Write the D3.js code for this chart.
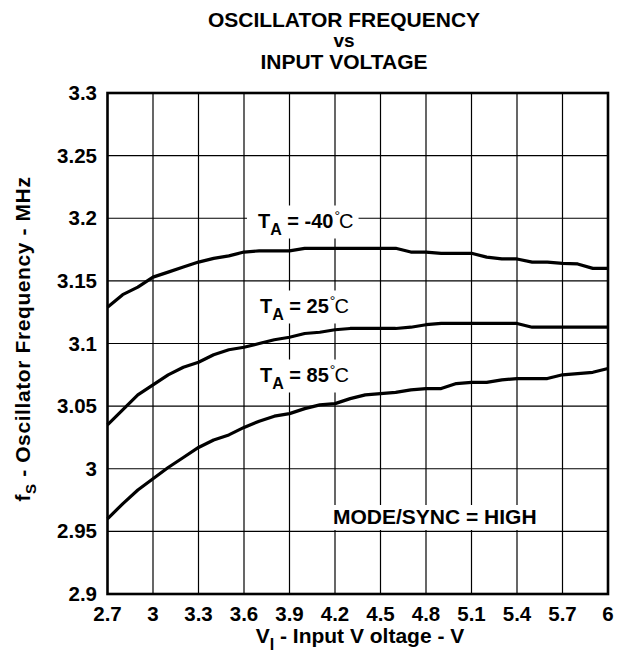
<!DOCTYPE html>
<html>
<head>
<meta charset="utf-8">
<script src="https://cdn.jsdelivr.net/npm/d3@7"></script>
<style>
  html, body { margin: 0; padding: 0; background: #fff; }
  svg { display: block; font-family: "Liberation Sans", Arial, Helvetica, sans-serif; font-weight: bold; }
</style>
</head>
<body>
<svg id="chart" width="628" height="655"></svg>
<script>
// Input voltage samples (V)
const voltage = [2.7, 2.8, 2.9, 3.0, 3.1, 3.2, 3.3, 3.4, 3.5, 3.6, 3.7, 3.8, 3.9, 4.0, 4.1, 4.2, 4.3,
                 4.4, 4.5, 4.6, 4.7, 4.8, 4.9, 5.0, 5.1, 5.2, 5.3, 5.4, 5.5, 5.6, 5.7, 5.8, 5.9, 6.0];

// Oscillator frequency (MHz) per ambient temperature
const freqMinus40 = [3.129, 3.139, 3.145, 3.153, 3.157, 3.161, 3.165, 3.168, 3.170, 3.173, 3.174, 3.174,
                     3.174, 3.176, 3.176, 3.176, 3.176, 3.176, 3.176, 3.176, 3.173, 3.173, 3.172, 3.172,
                     3.172, 3.169, 3.1675, 3.1675, 3.165, 3.165, 3.164, 3.1635, 3.160, 3.160];
const freq25 = [3.035, 3.047, 3.059, 3.067, 3.075, 3.081, 3.085, 3.091, 3.095, 3.097, 3.100, 3.103,
                3.105, 3.108, 3.109, 3.111, 3.112, 3.112, 3.112, 3.112, 3.113, 3.115, 3.116, 3.116,
                3.116, 3.116, 3.116, 3.116, 3.113, 3.113, 3.113, 3.113, 3.113, 3.113];
const freq85 = [2.960, 2.972, 2.983, 2.992, 3.001, 3.009, 3.017, 3.023, 3.027, 3.033, 3.038, 3.042,
                3.044, 3.048, 3.051, 3.052, 3.056, 3.059, 3.060, 3.061, 3.063, 3.064, 3.064, 3.068,
                3.069, 3.069, 3.071, 3.072, 3.072, 3.072, 3.075, 3.076, 3.077, 3.080];

// Axis ticks
const xTicks = [2.7, 3.0, 3.3, 3.6, 3.9, 4.2, 4.5, 4.8, 5.1, 5.4, 5.7, 6.0];
const xTickLabels = ["2.7", "3", "3.3", "3.6", "3.9", "4.2", "4.5", "4.8", "5.1", "5.4", "5.7", "6"];
const yTicks = [2.9, 2.95, 3.0, 3.05, 3.1, 3.15, 3.2, 3.25, 3.3];
const yTickLabels = ["2.9", "2.95", "3", "3.05", "3.1", "3.15", "3.2", "3.25", "3.3"];

// Curve labels
const seriesTemps = ["-40", "25", "85"];
const seriesValues = [freqMinus40, freq25, freq85];

const svg = d3.select("#chart");
const x = d3.scaleLinear().domain([2.7, 6.0]).range([107.5, 608]);
const y = d3.scaleLinear().domain([2.9, 3.3]).range([594, 93]);

// Grid
const grid = svg.append("g").attr("stroke", "#000").attr("stroke-width", 1.2);
grid.selectAll("line.v").data(xTicks.slice(1, -1)).join("line")
  .attr("class", "v")
  .attr("x1", d => x(d)).attr("x2", d => x(d))
  .attr("y1", y(3.3)).attr("y2", y(2.9));
grid.selectAll("line.h").data(yTicks.slice(1, -1)).join("line")
  .attr("class", "h")
  .attr("x1", x(2.7)).attr("x2", x(6.0))
  .attr("y1", d => y(d)).attr("y2", d => y(d));

// Annotation layer (white boxes cover the grid behind text)
const notes = svg.append("g");

// Curves
const line = d3.line().x((d, i) => x(voltage[i])).y(d => y(d));
svg.append("g").selectAll("path").data(seriesValues).join("path")
  .attr("d", d => line(d))
  .attr("fill", "none")
  .attr("stroke", "#000")
  .attr("stroke-width", 3.2)
  .attr("stroke-linejoin", "round");

// Frame
svg.append("rect")
  .attr("x", x(2.7)).attr("y", y(3.3))
  .attr("width", x(6.0) - x(2.7)).attr("height", y(2.9) - y(3.3))
  .attr("fill", "none").attr("stroke", "#000").attr("stroke-width", 2.6);

// Tick labels
svg.append("g").selectAll("text").data(xTicks).join("text")
  .attr("x", d => x(d)).attr("y", 621)
  .attr("text-anchor", "middle")
  .attr("font-size", 20.5)
  .text((d, i) => xTickLabels[i]);
svg.append("g").selectAll("text").data(yTicks).join("text")
  .attr("x", 97).attr("y", d => y(d) + 7)
  .attr("text-anchor", "end")
  .attr("font-size", 20.5)
  .text((d, i) => yTickLabels[i]);

// Title
const title = svg.append("g").attr("text-anchor", "middle").attr("font-size", 21);
title.append("text").attr("x", 344).attr("y", 27).text("OSCILLATOR FREQUENCY");
title.append("text").attr("x", 344).attr("y", 47).attr("font-size", 19).text("vs");
title.append("text").attr("x", 344).attr("y", 69).text("INPUT VOLTAGE");

// Axis titles
const xt = svg.append("text").attr("x", 360).attr("y", 643).attr("text-anchor", "middle").attr("font-size", 21);
xt.append("tspan").text("V");
xt.append("tspan").attr("font-size", 16).attr("dy", 7).text("I");
xt.append("tspan").attr("dy", -7).text(" - Input V oltage - V");

const yt = svg.append("text").attr("transform", "translate(30,339) rotate(-90)")
  .attr("text-anchor", "middle").attr("font-size", 21).attr("letter-spacing", 0.6);
yt.append("tspan").text("f");
yt.append("tspan").attr("font-size", 15).attr("dy", 6).text("S");
yt.append("tspan").attr("dy", -6).text(" - Oscillator Frequency - MHz");

// Temperature labels
const labelPos = [
  { x: 258, y: 227.5 },
  { x: 260, y: 312.5 },
  { x: 260, y: 381.5 }
];
seriesTemps.forEach((t, i) => {
  const g = notes.append("g");
  const txt = g.append("text").attr("x", labelPos[i].x).attr("y", labelPos[i].y).attr("font-size", 20);
  txt.append("tspan").text("T");
  txt.append("tspan").attr("font-size", 16).attr("dy", 7).text("A");
  txt.append("tspan").attr("dy", -7).text(" = " + t);
  txt.append("tspan").attr("font-size", 14).attr("dy", -7).attr("dx", 1).attr("font-weight", "normal").text("°");
  txt.append("tspan").attr("dy", 7).attr("dx", -1).attr("font-weight", "normal").text("C");
  const b = txt.node().getBBox();
  g.insert("rect", "text")
    .attr("x", b.x - 11).attr("y", labelPos[i].y - 22)
    .attr("width", b.width + 16).attr("height", 33)
    .attr("fill", "#fff");
});

// Operating mode note
{
  const g = notes.append("g");
  const txt = g.append("text").attr("x", 333).attr("y", 523.5).attr("font-size", 21).text("MODE/SYNC = HIGH");
  const b = txt.node().getBBox();
  g.insert("rect", "text")
    .attr("x", b.x - 8).attr("y", 505)
    .attr("width", b.width + 14).attr("height", 25)
    .attr("fill", "#fff");
}
</script>
</body>
</html>
